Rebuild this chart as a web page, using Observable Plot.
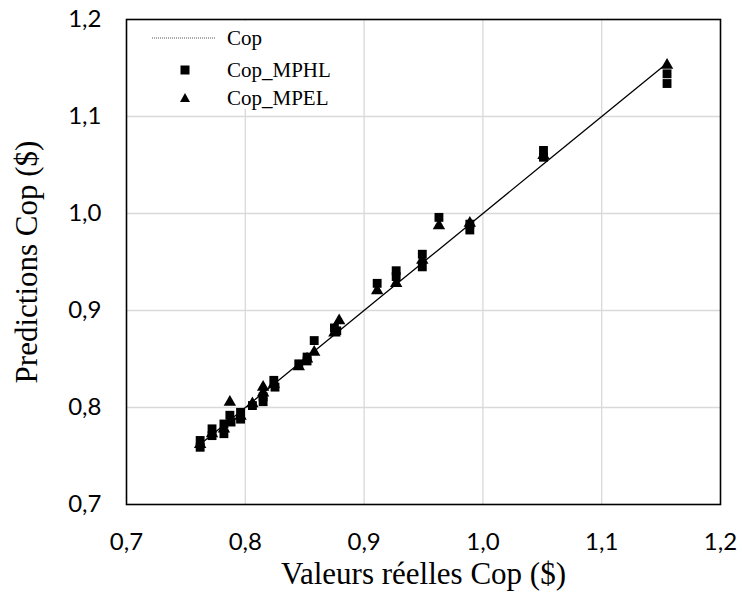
<!DOCTYPE html>
<html>
<head>
<meta charset="utf-8">
<script src="https://cdn.jsdelivr.net/npm/d3@7"></script>
<script src="https://cdn.jsdelivr.net/npm/@observablehq/plot@0.6"></script>
<style>
  html, body { margin: 0; padding: 0; background: #fff; }
  #wrap { position: relative; width: 742px; height: 607px; }
  #legend { position: absolute; left: 130px; top: 21px; width: 205px; height: 88px; background: #fff;
            font-family: 'Liberation Serif', serif; font-size: 21px; color: #000; }
  #legend .row { position: absolute; left: 0; height: 24px; line-height: 24px; }
  #legend svg { position: absolute; left: 0; top: 0; }
  #legend span { position: absolute; left: 97px; white-space: nowrap; font-family: 'Liberation Serif', serif; }
</style>
</head>
<body>
<div id="wrap"></div>
<script>
// Tick values
const xTicks = [0.7, 0.8, 0.9, 1.0, 1.1, 1.2];
const yTicks = [0.7, 0.8, 0.9, 1.0, 1.1, 1.2];
const gridTicks = [0.8, 0.9, 1.0, 1.1];

// Series: Cop (actual values, line y = x)
const copActual = [0.762, 0.772, 0.782, 0.788, 0.796, 0.806, 0.815, 0.824, 0.845, 0.852, 0.858, 0.876, 0.911, 0.927, 0.949, 0.963, 0.989, 1.051, 1.155];

// Cop_MPHL (squares): actual and predicted
const mphlX = [0.762, 0.762, 0.772, 0.772, 0.782, 0.782, 0.787, 0.788, 0.796, 0.796, 0.806, 0.815, 0.815, 0.824, 0.825, 0.845, 0.852, 0.852, 0.858, 0.875, 0.877, 0.911, 0.927, 0.927, 0.949, 0.949, 0.963, 0.989, 0.989, 1.051, 1.051, 1.155, 1.155];
const mphlY = [0.766, 0.759, 0.778, 0.771, 0.783, 0.773, 0.792, 0.785, 0.795, 0.788, 0.802, 0.811, 0.806, 0.828, 0.821, 0.845, 0.852, 0.848, 0.869, 0.882, 0.879, 0.928, 0.941, 0.935, 0.958, 0.945, 0.996, 0.989, 0.983, 1.065, 1.058, 1.144, 1.134];

// Cop_MPEL (triangles): actual and predicted
const mpelX = [0.762, 0.772, 0.782, 0.787, 0.796, 0.806, 0.815, 0.815, 0.824, 0.845, 0.852, 0.858, 0.875, 0.879, 0.911, 0.927, 0.949, 0.963, 0.989, 1.051, 1.155];
const mpelY = [0.762, 0.773, 0.778, 0.8055, 0.791, 0.804, 0.821, 0.815, 0.824, 0.842, 0.850, 0.857, 0.877, 0.8895, 0.9205, 0.928, 0.952, 0.9875, 0.990, 1.060, 1.153];

const fmt = d => d.toFixed(1).replace(".", ",");

const lineData = copActual.map(v => ({x: v, y: v}));
const mphl = mphlX.map((x, i) => ({x, y: mphlY[i]}));
const mpel = mpelX.map((x, i) => ({x, y: mpelY[i]}));

const tickFont = "Lato, 'Open Sans', sans-serif";
const titleFont = "'Liberation Serif', serif";

const chart = Plot.plot({
  width: 742,
  height: 607,
  marginLeft: 126,
  marginRight: 22,
  marginTop: 19,
  marginBottom: 103,
  style: {background: "#fff", color: "#000", overflow: "visible"},
  x: {domain: [0.7, 1.2]},
  y: {domain: [0.7, 1.2]},
  marks: [
    Plot.gridX(gridTicks, {stroke: "#d9d9d9", strokeOpacity: 1, strokeWidth: 1.3}),
    Plot.gridY(gridTicks, {stroke: "#d9d9d9", strokeOpacity: 1, strokeWidth: 1.3}),
    Plot.line(lineData, {x: "x", y: "y", stroke: "#000", strokeWidth: 1.3}),
    Plot.dot(mphl, {x: "x", y: "y", symbol: "square", r: 5, fill: "#000", stroke: "none"}),
    Plot.dot(mpel, {x: "x", y: "y", symbol: "triangle", r: 4.6, fill: "#000", stroke: "none"}),
    Plot.frame({stroke: "#000", strokeWidth: 1.6}),
    Plot.axisX({ticks: xTicks, tickFormat: fmt, tickSize: 0, tickPadding: 28, fontSize: 24,
      fontFamily: tickFont, label: null}),
    Plot.axisY({ticks: yTicks, tickFormat: fmt, tickSize: 0, tickPadding: 25, fontSize: 24,
      fontFamily: tickFont, label: null}),
    Plot.text(["Valeurs réelles Cop ($)"], {frameAnchor: "bottom", dy: 79, fontSize: 31,
      fontFamily: titleFont, fill: "#000", textAnchor: "middle"}),
    Plot.text(["Predictions Cop ($)"], {frameAnchor: "left", dx: -99, dy: 0, rotate: -90, fontSize: 31,
      fontFamily: titleFont, fill: "#000", textAnchor: "middle"})
  ]
});

const wrap = document.getElementById("wrap");
wrap.appendChild(chart);

// Legend
const legendItems = [
  {label: "Cop", kind: "line", top: 5},
  {label: "Cop_MPHL", kind: "square", top: 37},
  {label: "Cop_MPEL", kind: "triangle", top: 65}
];
const legend = document.createElement("div");
legend.id = "legend";
legendItems.forEach(it => {
  const row = document.createElement("div");
  row.className = "row";
  row.style.top = it.top + "px";
  row.style.width = "205px";
  let g = "";
  if (it.kind === "line") g = '<line x1="22" x2="85" y1="12" y2="12" stroke="#555" stroke-width="1" stroke-dasharray="1,1"/>';
  if (it.kind === "square") g = '<rect x="50.5" y="7.5" width="9" height="9" fill="#000"/>';
  if (it.kind === "triangle") g = '<path d="M55,7 L60,16 L50,16 Z" fill="#000"/>';
  row.innerHTML = '<svg width="95" height="24">' + g + '</svg><span>' + it.label + '</span>';
  legend.appendChild(row);
});
wrap.appendChild(legend);
</script>
</body>
</html>
